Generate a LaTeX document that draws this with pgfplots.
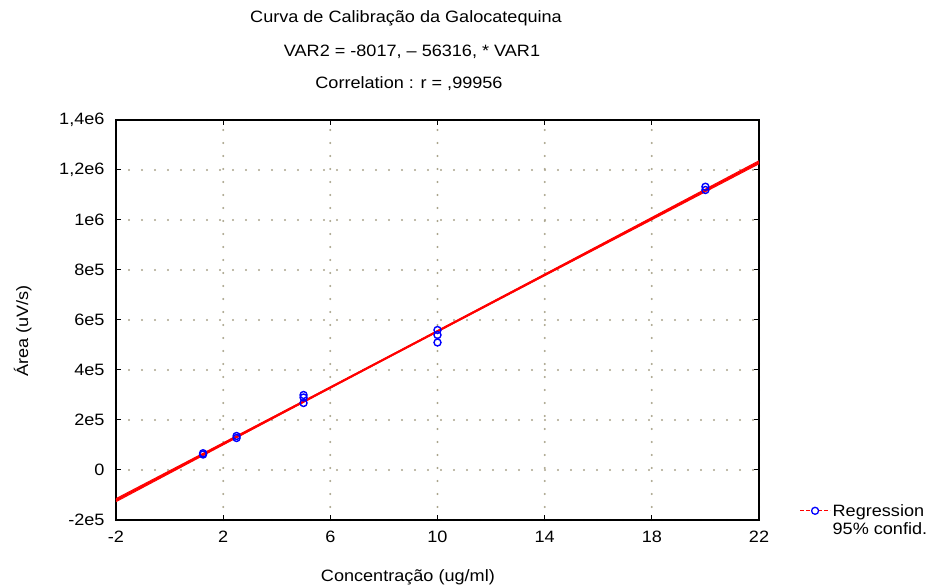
\documentclass[border=0pt]{standalone}
\usepackage{pgfplots}
\pgfplotsset{compat=1.18}
\usepackage{fontspec}
\setmainfont[FakeStretch=1.1]{Liberation Sans}
\definecolor{griddot}{RGB}{170,164,140}
\definecolor{regred}{RGB}{255,0,0}
\definecolor{ptblue}{RGB}{0,0,255}

% measured points (concentration, area)
\pgfplotstableread{
x y
1.25 62000
1.25 67000
2.5 128000
2.5 136000
5 268000
5 290000
5 300000
10 510000
10 540000
10 560000
20 1120000
20 1133000
}\pontos

\begin{document}
\begin{tikzpicture}[font=\fontsize{16.5}{19}\selectfont]
\begin{axis}[
  width=643bp, height=400bp, scale only axis,
  xmin=-2, xmax=22, ymin=-200000, ymax=1400000,
  xtick={-2,2,6,10,14,18,22},
  xticklabels={-2,2,6,10,14,18,22},
  ytick={-200000,0,200000,400000,600000,800000,1000000,1200000,1400000},
  yticklabels={-2e5,0,2e5,4e5,6e5,8e5,1e6,{1,2e6},{1,4e6}},
  scaled y ticks=false,
  tick align=inside, major tick length=5bp,
  axis line style={line width=1.6bp},
  every tick/.style={black, line width=1bp},
  grid=major,
  major grid style={griddot, line width=2.2bp, dash pattern=on 0bp off 13bp, line cap=round},
  xticklabel style={yshift=-8bp},
  yticklabel style={xshift=-8bp},
  xlabel={Concentração (ug/ml)},
  ylabel={Área (uV/s)},
  xlabel style={at={(axis description cs:0.454,-0.1425)}, anchor=center},
  ylabel style={at={(axis description cs:-0.145,0.4725)}, anchor=center},
  legend style={draw=none, fill=none, at={(axis description cs:1.058,0.0)}, anchor=west,
    row sep=1bp, cells={anchor=west}},
  legend cell align=left,
  legend image code/.code={
    \draw[regred, line width=1.2bp, dash pattern=on 4bp off 2bp] (0bp,0bp) -- (30bp,0bp);
    \draw[ptblue, line width=1.3bp, fill=white] (15bp,0bp) circle (3.5bp);
  },
  clip=false,
]
% 95% confidence band
\addplot[regred, line width=1bp, forget plot] coordinates {
  (-2,-126649) (4,214247) (8,440511) (14,777407) (22,1224935)};
\addplot[regred, line width=1bp, forget plot] coordinates {
  (-2,-114649) (4,220247) (8,444511) (14,783407) (22,1236935)};
% regression VAR2 = -8017 + 56316*VAR1
\addplot[regred, line width=2bp] coordinates {(-2,-120649) (22,1230935)};
\addlegendentry{Regression}
\addplot[only marks, mark=o, ptblue, mark size=3.5bp, mark options={line width=1.4bp}, forget plot]
  table[x=x, y=y] {\pontos};
\addlegendimage{legend image code/.code={}}
\addlegendentry{95\% confid.}
\end{axis}
\node at ([shift={(290bp,102bp)}]current axis.north west) {Curva de Calibração da Galocatequina};
\node at ([shift={(296bp,68bp)}]current axis.north west) {VAR2 = -8017, -- 56316, * VAR1};
\node at ([shift={(293bp,36bp)}]current axis.north west) {Correlation : r = ,99956};
\pgfresetboundingbox
\path (current axis.south west) ++(-116bp,-67bp) rectangle ++(938bp,587bp);
\end{tikzpicture}
\end{document}
